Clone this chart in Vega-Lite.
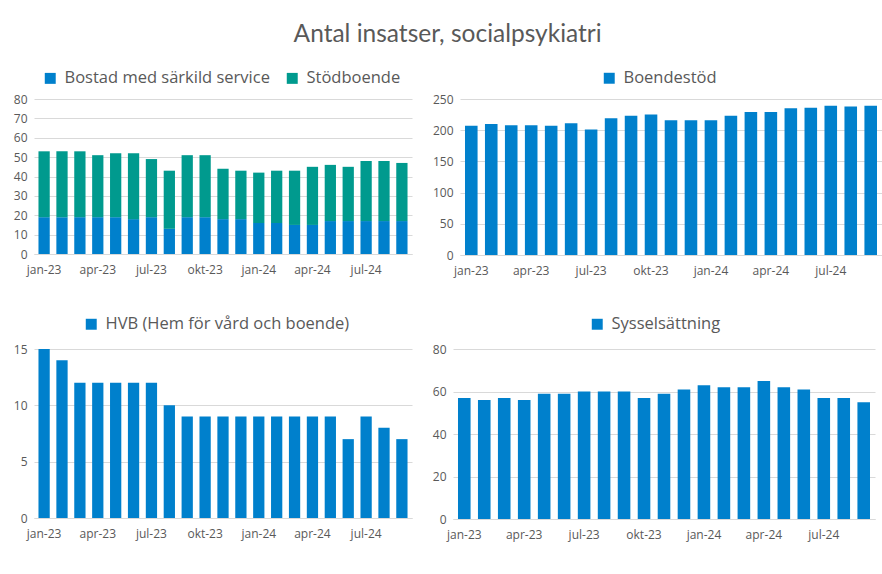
{
  "$schema": "https://vega.github.io/schema/vega-lite/v6.json",
  "background": "white",
  "padding": {"left": 13, "top": 21, "right": 2, "bottom": 12},
  "title": {"text": "Antal insatser, socialpsykiatri", "font": "Lato", "fontSize": 24.5, "fontWeight": "normal", "color": "#595959", "anchor": "middle", "offset": 23},
  "datasets": {
    "p1": [
      {"m": "jan-23", "serie": "Bostad med särkild service", "v": 19}, {"m": "feb-23", "serie": "Bostad med särkild service", "v": 19},
      {"m": "mar-23", "serie": "Bostad med särkild service", "v": 19}, {"m": "apr-23", "serie": "Bostad med särkild service", "v": 19},
      {"m": "maj-23", "serie": "Bostad med särkild service", "v": 19}, {"m": "jun-23", "serie": "Bostad med särkild service", "v": 18},
      {"m": "jul-23", "serie": "Bostad med särkild service", "v": 19}, {"m": "aug-23", "serie": "Bostad med särkild service", "v": 13},
      {"m": "sep-23", "serie": "Bostad med särkild service", "v": 19}, {"m": "okt-23", "serie": "Bostad med särkild service", "v": 19},
      {"m": "nov-23", "serie": "Bostad med särkild service", "v": 18}, {"m": "dec-23", "serie": "Bostad med särkild service", "v": 18},
      {"m": "jan-24", "serie": "Bostad med särkild service", "v": 16}, {"m": "feb-24", "serie": "Bostad med särkild service", "v": 16},
      {"m": "mar-24", "serie": "Bostad med särkild service", "v": 15}, {"m": "apr-24", "serie": "Bostad med särkild service", "v": 15},
      {"m": "maj-24", "serie": "Bostad med särkild service", "v": 17}, {"m": "jun-24", "serie": "Bostad med särkild service", "v": 17},
      {"m": "jul-24", "serie": "Bostad med särkild service", "v": 17}, {"m": "aug-24", "serie": "Bostad med särkild service", "v": 17},
      {"m": "sep-24", "serie": "Bostad med särkild service", "v": 17},
      {"m": "jan-23", "serie": "Stödboende", "v": 34}, {"m": "feb-23", "serie": "Stödboende", "v": 34},
      {"m": "mar-23", "serie": "Stödboende", "v": 34}, {"m": "apr-23", "serie": "Stödboende", "v": 32},
      {"m": "maj-23", "serie": "Stödboende", "v": 33}, {"m": "jun-23", "serie": "Stödboende", "v": 34},
      {"m": "jul-23", "serie": "Stödboende", "v": 30}, {"m": "aug-23", "serie": "Stödboende", "v": 30},
      {"m": "sep-23", "serie": "Stödboende", "v": 32}, {"m": "okt-23", "serie": "Stödboende", "v": 32},
      {"m": "nov-23", "serie": "Stödboende", "v": 26}, {"m": "dec-23", "serie": "Stödboende", "v": 25},
      {"m": "jan-24", "serie": "Stödboende", "v": 26}, {"m": "feb-24", "serie": "Stödboende", "v": 27},
      {"m": "mar-24", "serie": "Stödboende", "v": 28}, {"m": "apr-24", "serie": "Stödboende", "v": 30},
      {"m": "maj-24", "serie": "Stödboende", "v": 29}, {"m": "jun-24", "serie": "Stödboende", "v": 28},
      {"m": "jul-24", "serie": "Stödboende", "v": 31}, {"m": "aug-24", "serie": "Stödboende", "v": 31},
      {"m": "sep-24", "serie": "Stödboende", "v": 30}
    ],
    "p2": [
      {"m": "jan-23", "serie": "Boendestöd", "v": 207}, {"m": "feb-23", "serie": "Boendestöd", "v": 210},
      {"m": "mar-23", "serie": "Boendestöd", "v": 208}, {"m": "apr-23", "serie": "Boendestöd", "v": 208},
      {"m": "maj-23", "serie": "Boendestöd", "v": 207}, {"m": "jun-23", "serie": "Boendestöd", "v": 211},
      {"m": "jul-23", "serie": "Boendestöd", "v": 201}, {"m": "aug-23", "serie": "Boendestöd", "v": 219},
      {"m": "sep-23", "serie": "Boendestöd", "v": 223}, {"m": "okt-23", "serie": "Boendestöd", "v": 225},
      {"m": "nov-23", "serie": "Boendestöd", "v": 216}, {"m": "dec-23", "serie": "Boendestöd", "v": 216},
      {"m": "jan-24", "serie": "Boendestöd", "v": 216}, {"m": "feb-24", "serie": "Boendestöd", "v": 223},
      {"m": "mar-24", "serie": "Boendestöd", "v": 229}, {"m": "apr-24", "serie": "Boendestöd", "v": 229},
      {"m": "maj-24", "serie": "Boendestöd", "v": 235}, {"m": "jun-24", "serie": "Boendestöd", "v": 236},
      {"m": "jul-24", "serie": "Boendestöd", "v": 239}, {"m": "aug-24", "serie": "Boendestöd", "v": 238},
      {"m": "sep-24", "serie": "Boendestöd", "v": 239}
    ],
    "p3": [
      {"m": "jan-23", "serie": "HVB (Hem för vård och boende)", "v": 15}, {"m": "feb-23", "serie": "HVB (Hem för vård och boende)", "v": 14},
      {"m": "mar-23", "serie": "HVB (Hem för vård och boende)", "v": 12}, {"m": "apr-23", "serie": "HVB (Hem för vård och boende)", "v": 12},
      {"m": "maj-23", "serie": "HVB (Hem för vård och boende)", "v": 12}, {"m": "jun-23", "serie": "HVB (Hem för vård och boende)", "v": 12},
      {"m": "jul-23", "serie": "HVB (Hem för vård och boende)", "v": 12}, {"m": "aug-23", "serie": "HVB (Hem för vård och boende)", "v": 10},
      {"m": "sep-23", "serie": "HVB (Hem för vård och boende)", "v": 9}, {"m": "okt-23", "serie": "HVB (Hem för vård och boende)", "v": 9},
      {"m": "nov-23", "serie": "HVB (Hem för vård och boende)", "v": 9}, {"m": "dec-23", "serie": "HVB (Hem för vård och boende)", "v": 9},
      {"m": "jan-24", "serie": "HVB (Hem för vård och boende)", "v": 9}, {"m": "feb-24", "serie": "HVB (Hem för vård och boende)", "v": 9},
      {"m": "mar-24", "serie": "HVB (Hem för vård och boende)", "v": 9}, {"m": "apr-24", "serie": "HVB (Hem för vård och boende)", "v": 9},
      {"m": "maj-24", "serie": "HVB (Hem för vård och boende)", "v": 9}, {"m": "jun-24", "serie": "HVB (Hem för vård och boende)", "v": 7},
      {"m": "jul-24", "serie": "HVB (Hem för vård och boende)", "v": 9}, {"m": "aug-24", "serie": "HVB (Hem för vård och boende)", "v": 8},
      {"m": "sep-24", "serie": "HVB (Hem för vård och boende)", "v": 7}
    ],
    "p4": [
      {"m": "jan-23", "serie": "Sysselsättning", "v": 57}, {"m": "feb-23", "serie": "Sysselsättning", "v": 56},
      {"m": "mar-23", "serie": "Sysselsättning", "v": 57}, {"m": "apr-23", "serie": "Sysselsättning", "v": 56},
      {"m": "maj-23", "serie": "Sysselsättning", "v": 59}, {"m": "jun-23", "serie": "Sysselsättning", "v": 59},
      {"m": "jul-23", "serie": "Sysselsättning", "v": 60}, {"m": "aug-23", "serie": "Sysselsättning", "v": 60},
      {"m": "sep-23", "serie": "Sysselsättning", "v": 60}, {"m": "okt-23", "serie": "Sysselsättning", "v": 57},
      {"m": "nov-23", "serie": "Sysselsättning", "v": 59}, {"m": "dec-23", "serie": "Sysselsättning", "v": 61},
      {"m": "jan-24", "serie": "Sysselsättning", "v": 63}, {"m": "feb-24", "serie": "Sysselsättning", "v": 62},
      {"m": "mar-24", "serie": "Sysselsättning", "v": 62}, {"m": "apr-24", "serie": "Sysselsättning", "v": 65},
      {"m": "maj-24", "serie": "Sysselsättning", "v": 62}, {"m": "jun-24", "serie": "Sysselsättning", "v": 61},
      {"m": "jul-24", "serie": "Sysselsättning", "v": 57}, {"m": "aug-24", "serie": "Sysselsättning", "v": 57},
      {"m": "sep-24", "serie": "Sysselsättning", "v": 55}
    ]
  },
  "spacing": 40,
  "resolve": {"scale": {"color": "independent", "x": "independent", "y": "independent"}, "legend": {"color": "independent"}},
  "vconcat": [
    {
      "spacing": 20,
      "resolve": {"scale": {"color": "independent", "x": "independent", "y": "independent"}, "legend": {"color": "independent"}},
      "hconcat": [
        {
          "width": 378, "height": 155,
          "data": {"name": "p1"},
          "mark": {"type": "bar"},
          "encoding": {
            "x": {"field": "m", "type": "nominal", "sort": null, "title": null,
                  "scale": {"paddingInner": 0.37, "paddingOuter": 0.25},
                  "axis": {"labelExpr": "test(/^(jan|apr|jul|okt)/, datum.value) ? datum.value : ''"}},
            "y": {"field": "v", "type": "quantitative", "title": null, "stack": "zero",
                  "scale": {"domain": [0, 80], "nice": false}, "axis": {"values": [0, 10, 20, 30, 40, 50, 60, 70, 80]}},
            "color": {"field": "serie", "type": "nominal", "title": null,
                      "scale": {"domain": ["Bostad med särkild service", "Stödboende"], "range": ["#0080cc", "#009a8e"]},
                      "legend": {"orient": "none", "legendX": 8, "legendY": -29, "direction": "horizontal", "columnPadding": 14}},
            "order": {"field": "serie", "sort": "ascending"}
          }
        },
        {
          "width": 422, "height": 156,
          "data": {"name": "p2"},
          "mark": {"type": "bar"},
          "encoding": {
            "x": {"field": "m", "type": "nominal", "sort": null, "title": null,
                  "scale": {"paddingInner": 0.37, "paddingOuter": 0.25},
                  "axis": {"labelExpr": "test(/^(jan|apr|jul|okt)/, datum.value) ? datum.value : ''"}},
            "y": {"field": "v", "type": "quantitative", "title": null,
                  "scale": {"domain": [0, 250], "nice": false}, "axis": {"values": [0, 50, 100, 150, 200, 250]}},
            "color": {"field": "serie", "type": "nominal", "title": null,
                      "scale": {"domain": ["Boendestöd"], "range": ["#0080cc"]},
                      "legend": {"orient": "none", "legendX": 141, "legendY": -29, "direction": "horizontal"}}
          }
        }
      ]
    },
    {
      "spacing": 20,
      "resolve": {"scale": {"color": "independent", "x": "independent", "y": "independent"}, "legend": {"color": "independent"}},
      "hconcat": [
        {
          "width": 378, "height": 169,
          "data": {"name": "p3"},
          "mark": {"type": "bar"},
          "encoding": {
            "x": {"field": "m", "type": "nominal", "sort": null, "title": null,
                  "scale": {"paddingInner": 0.37, "paddingOuter": 0.25},
                  "axis": {"labelExpr": "test(/^(jan|apr|jul|okt)/, datum.value) ? datum.value : ''"}},
            "y": {"field": "v", "type": "quantitative", "title": null,
                  "scale": {"domain": [0, 15], "nice": false}, "axis": {"values": [0, 5, 10, 15]}},
            "color": {"field": "serie", "type": "nominal", "title": null,
                      "scale": {"domain": ["HVB (Hem för vård och boende)"], "range": ["#0080cc"]},
                      "legend": {"orient": "none", "legendX": 49, "legendY": -33, "direction": "horizontal"}}
          }
        },
        {
          "width": 422, "height": 170,
          "data": {"name": "p4"},
          "mark": {"type": "bar"},
          "encoding": {
            "x": {"field": "m", "type": "nominal", "sort": null, "title": null,
                  "scale": {"paddingInner": 0.37, "paddingOuter": 0.25},
                  "axis": {"labelExpr": "test(/^(jan|apr|jul|okt)/, datum.value) ? datum.value : ''"}},
            "y": {"field": "v", "type": "quantitative", "title": null,
                  "scale": {"domain": [0, 80], "nice": false}, "axis": {"values": [0, 20, 40, 60, 80]}},
            "color": {"field": "serie", "type": "nominal", "title": null,
                      "scale": {"domain": ["Sysselsättning"], "range": ["#0080cc"]},
                      "legend": {"orient": "none", "legendX": 136, "legendY": -33, "direction": "horizontal"}}
          }
        }
      ]
    }
  ],
  "config": {
    "view": {"stroke": null},
    "font": "Open Sans",
    "axis": {"labelFont": "Open Sans", "labelFontSize": 12, "labelColor": "#595959", "gridColor": "#d9d9d9", "ticks": false, "domain": false},
    "axisX": {"labelAngle": 0, "labelPadding": 10, "grid": false, "domain": true, "domainColor": "#d9d9d9"},
    "axisY": {"labelPadding": 7},
    "legend": {"labelFont": "Open Sans", "labelFontSize": 16.5, "labelColor": "#595959", "symbolType": "square", "symbolSize": 120, "symbolStrokeWidth": 0, "labelLimit": 400, "labelOffset": 6}
  }
}
